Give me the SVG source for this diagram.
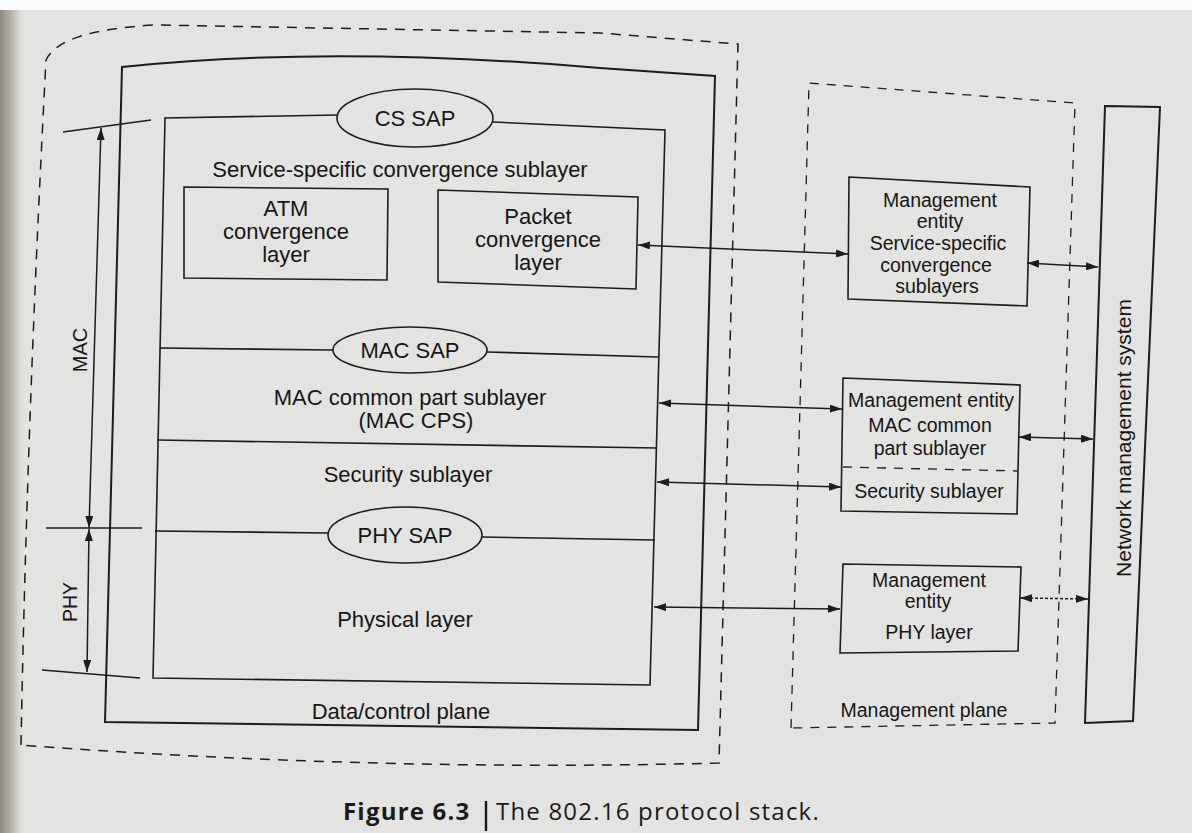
<svg xmlns="http://www.w3.org/2000/svg" width="1192" height="833" viewBox="0 0 1192 833">
  <defs>
    <marker id="ah" viewBox="0 0 12 8" refX="12" refY="4" markerWidth="12" markerHeight="8" orient="auto-start-reverse" markerUnits="userSpaceOnUse">
      <path d="M0,0 L12,4 L0,8 z" fill="#1c1c1c"/>
    </marker>
    <linearGradient id="edge" x1="0" y1="0" x2="1" y2="0">
      <stop offset="0" stop-color="#8f8a80"/>
      <stop offset="0.5" stop-color="#bdbab3"/>
      <stop offset="1" stop-color="#e2e2e0" stop-opacity="0"/>
    </linearGradient>
    <style>
      .ln { fill: none; stroke: #1c1c1c; stroke-width: 1.6; }
      .thick { fill: none; stroke: #1c1c1c; stroke-width: 2; }
      .dash { fill: none; stroke: #1c1c1c; stroke-width: 1.5; stroke-dasharray: 10 8; }
      .dash2 { fill: none; stroke: #1c1c1c; stroke-width: 1.3; stroke-dasharray: 9 8; }
      .conn { fill: none; stroke: #1c1c1c; stroke-width: 1.5; marker-start: url(#ah); marker-end: url(#ah); }
      text { font-family: "Liberation Sans", Arial, sans-serif; fill: #161616; text-anchor: middle; }
      .big { font-size: 22px; }
      .mid { font-size: 19.5px; }
      .cap { font-family: "Open Sans", "Noto Sans", sans-serif; font-size: 24px; letter-spacing: 1.2px; text-anchor: start; fill: #1a1a1a; }
    </style>
  </defs>

  <!-- page -->
  <rect x="0" y="0" width="1192" height="833" fill="#e3e3e1"/>
  <rect x="0" y="0" width="1192" height="10" fill="#fbfbfb"/>
  <rect x="0" y="10" width="26" height="823" fill="url(#edge)"/>

  <!-- data/control plane region (dashed outline) -->
  <g id="data-control-region">
    <path class="dash" d="M21,745 Q27,420 46,60 Q60,30 155,25 L600,33 L738,44 L719,763 Q380,772 21,745"/>
  </g>

  <!-- data/control plane box -->
  <g id="data-control-plane">
    <path class="thick" d="M122,67 Q330,45 600,68 L715,76 L698,730 L105,722 Z"/>
    <text class="big" x="401" y="719">Data/control plane</text>
  </g>

  <!-- protocol stack -->
  <g id="protocol-stack">
    <path class="ln" d="M337,115 L165,118 L153,678 L650,685 L665,130 L493,122"/>
    <text class="big" x="400" y="177">Service-specific convergence sublayer</text>
    <path class="ln" d="M160,348 L333,350 M487,352 L658,357"/>
    <text class="big" x="410" y="405">MAC common part sublayer</text>
    <text class="big" x="416" y="428">(MAC CPS)</text>
    <path class="ln" d="M157,440 L657,448"/>
    <text class="big" x="408" y="482">Security sublayer</text>
    <path class="ln" d="M155,531 L328,533 M482,537 L655,540"/>
    <text class="big" x="405" y="627">Physical layer</text>
  </g>

  <g id="cs-sap">
    <ellipse class="ln" cx="415" cy="118" rx="78" ry="29"/>
    <text class="big" x="415" y="126">CS SAP</text>
  </g>
  <g id="mac-sap">
    <ellipse class="ln" cx="410" cy="350" rx="77" ry="23"/>
    <text class="big" x="410" y="358">MAC SAP</text>
  </g>
  <g id="phy-sap">
    <ellipse class="ln" cx="405" cy="535" rx="77" ry="28"/>
    <text class="big" x="405" y="543">PHY SAP</text>
  </g>

  <g id="atm-cl">
    <path class="ln" d="M184,187 L388,189 L387,280 L184,278 Z"/>
    <text class="big" x="286" y="216">ATM</text>
    <text class="big" x="286" y="239">convergence</text>
    <text class="big" x="286" y="262">layer</text>
  </g>
  <g id="packet-cl">
    <path class="ln" d="M438,190 L638,197 L636,289 L438,282 Z"/>
    <text class="big" x="538" y="224">Packet</text>
    <text class="big" x="538" y="247">convergence</text>
    <text class="big" x="538" y="270">layer</text>
  </g>

  <!-- MAC / PHY extent markers -->
  <g id="mac-extent">
    <path class="ln" d="M63,132 L151,120"/>
    <path class="conn" d="M101,128 L89,528"/>
    <text style="font-size:20px" transform="translate(87,350) rotate(-90)">MAC</text>
  </g>
  <g id="phy-extent">
    <path class="ln" d="M46,528 L142,528 M42,670 L140,678"/>
    <path class="conn" d="M89,529 L87,672"/>
    <text class="mid" transform="translate(77,602) rotate(-90)">PHY</text>
  </g>

  <!-- management plane -->
  <g id="management-plane">
    <path class="dash2" d="M791,728 L809,83 L1075,103 L1055,723 Z"/>
    <text class="mid" x="924" y="717">Management plane</text>
  </g>

  <g id="me-sscs">
    <path class="ln" d="M849,177 L1030,187 L1027,306 L848,299 Z"/>
    <text class="mid" x="940" y="207">Management</text>
    <text class="mid" x="940" y="228">entity</text>
    <text class="mid" x="938" y="250">Service-specific</text>
    <text class="mid" x="936" y="272">convergence</text>
    <text class="mid" x="937" y="293">sublayers</text>
  </g>

  <g id="me-mac-cps">
    <path class="ln" d="M843,378 L1020,385 L1017,514 L841,511 Z"/>
    <path class="dash2" d="M843,467 L1017,471" stroke-dasharray="12 9"/>
    <text class="mid" x="931" y="407">Management entity</text>
    <text class="mid" x="930" y="432">MAC common</text>
    <text class="mid" x="930" y="455">part sublayer</text>
    <text class="mid" x="929" y="498">Security sublayer</text>
  </g>

  <g id="me-phy">
    <path class="ln" d="M843,564 L1021,567 L1018,651 L840,653 Z"/>
    <text class="mid" x="929" y="587">Management</text>
    <text class="mid" x="928" y="608">entity</text>
    <text class="mid" x="929" y="639">PHY layer</text>
  </g>

  <g id="nms">
    <path class="thick" d="M1105,106 L1160,107 L1133,721 L1085,723 Z"/>
    <text style="font-size:21px" transform="translate(1131,438) rotate(-90)">Network management system</text>
  </g>

  <!-- connectors -->
  <g id="connectors">
    <path class="conn" d="M638,245 L848,254"/>
    <path class="conn" d="M659,403 L842,409"/>
    <path class="conn" d="M657,482 L841,487"/>
    <path class="conn" d="M654,607 L840,609"/>
    <path class="conn" d="M1027,263 L1098,267"/>
    <path class="conn" d="M1019,437 L1093,439"/>
    <path class="conn" d="M1020,598 L1088,599" stroke-width="1.2" stroke-dasharray="3 2"/>
  </g>

  <!-- caption -->
  <g id="caption">
    <text class="cap" x="343" y="820" font-weight="bold">Figure 6.3</text>
    <line x1="486" y1="801" x2="486" y2="831" stroke="#1a1a1a" stroke-width="2.4"/>
    <text class="cap" x="496" y="820">The 802.16 protocol stack.</text>
  </g>
</svg>
